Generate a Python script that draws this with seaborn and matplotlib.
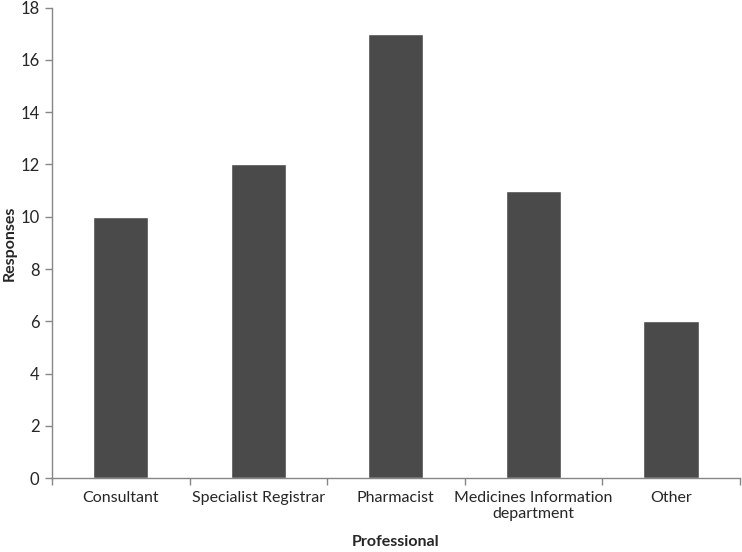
import pandas as pd
import seaborn as sns
import matplotlib.pyplot as plt
from matplotlib.ticker import FixedLocator

# dati
professionals = ["Consultant", "Specialist Registrar", "Pharmacist",
                 "Medicines Information\ndepartment", "Other"]
responses = [10, 12, 17, 11, 6]

df = pd.DataFrame({"Professional": professionals, "Responses": responses})

sns.set_style("white")
plt.rcParams["font.family"] = ["Lato", "DejaVu Sans"]

fig = plt.figure(figsize=(7.42, 5.52), dpi=100)
ax = fig.add_axes([0.070, 0.134, 0.927, 0.852])

sns.barplot(data=df, x="Professional", y="Responses", color="#4a4a4a",
            width=0.4, saturation=1, ax=ax)

ax.set_xlim(-0.5, len(professionals) - 0.5)
ax.set_ylim(0, 18)
ax.set_yticks(range(0, 19, 2))

# tick tra le categorie, come in Excel
ax.xaxis.set_minor_locator(FixedLocator([i - 0.5 for i in range(len(professionals) + 1)]))
ax.tick_params(axis="x", which="major", length=0, pad=9, labelsize=11.5)
ax.tick_params(axis="x", which="minor", length=5, color="#868686", width=1, direction="out", bottom=True)
ax.tick_params(axis="y", length=5, color="#868686", width=1, direction="out", left=True, labelsize=12, pad=4)

for side in ["top", "right"]:
    ax.spines[side].set_visible(False)
for side in ["left", "bottom"]:
    ax.spines[side].set_color("#868686")
    ax.spines[side].set_linewidth(1)

ax.set_xlabel("Professional", fontweight="bold", fontsize=11.5, labelpad=10)
ax.set_ylabel("Responses", fontweight="bold", fontsize=11.5)
ax.yaxis.set_label_coords(-0.051, 0.5)

plt.savefig("out.png", dpi=100)
